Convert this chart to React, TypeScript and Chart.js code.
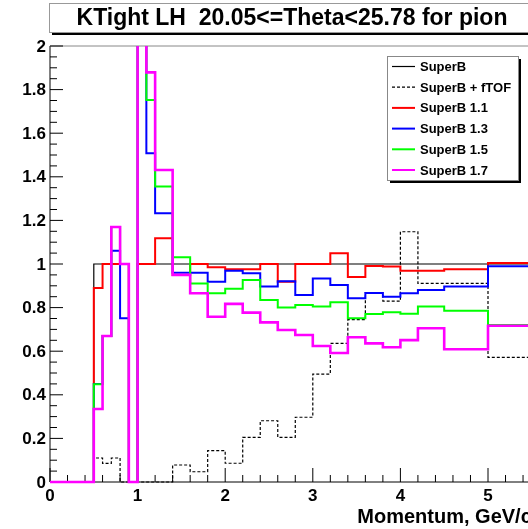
import React, { useEffect, useRef } from "react";
import { Chart, registerables } from "chart.js";

Chart.register(...registerables);

// Histogram bin edges (GeV/c)
const binEdges = [0, 0.5, 0.6, 0.7, 0.8, 0.9, 1.0, 1.1, 1.2, 1.4, 1.6, 1.8, 2.0, 2.2, 2.4, 2.6, 2.8, 3.0, 3.2, 3.4, 3.6, 3.8, 4.0, 4.2, 4.5, 5.0, 5.5];

// One value per bin
const superB = [0, 1, 1, 1, 1, 0, 1, 1, 1, 1, 1, 1, 1, 1, 1, 1, 1, 1, 1, 1, 1, 1, 1, 1, 1, 1];
const superBfTOF = [0, 0.11, 0.085, 0.11, 0, 0, 0, 0, 0, 0.078, 0.047, 0.144, 0.086, 0.205, 0.281, 0.205, 0.297, 0.495, 0.636, 0.745, 0.868, 0.83, 1.148, 0.911, 0.911, 0.572];
const superB11 = [0, 0.89, 1, 1, 1, 0, 1, 1, 1.118, 0.95, 1.0, 0.985, 0.976, 0.976, 1.0, 0.919, 1.0, 1.0, 1.049, 0.94, 0.991, 0.988, 0.969, 0.969, 0.976, 1.005];
const superB13 = [0, 0.45, 0.67, 1.061, 0.751, 0, 2.6, 1.508, 1.233, 0.96, 0.96, 0.919, 0.969, 0.957, 0.897, 0.921, 0.858, 0.934, 0.904, 0.843, 0.867, 0.85, 0.866, 0.881, 0.897, 0.99];
const superB15 = [0, 0.448, 0.67, 1.17, 1.0, 0, 2.8, 1.752, 1.355, 1.031, 0.911, 0.866, 0.886, 0.927, 0.835, 0.8, 0.812, 0.805, 0.825, 0.751, 0.771, 0.779, 0.772, 0.805, 0.785, 0.72];
const superB17 = [0, 0.335, 0.67, 1.17, 1.0, 0, 3.5, 1.879, 1.431, 0.95, 0.866, 0.758, 0.817, 0.777, 0.732, 0.697, 0.674, 0.624, 0.592, 0.664, 0.636, 0.618, 0.651, 0.705, 0.609, 0.717];

const seriesNames = ["SuperB", "SuperB + fTOF", "SuperB 1.1", "SuperB 1.3", "SuperB 1.5", "SuperB 1.7"];
const seriesColors = ["#000000", "#000000", "#ff0000", "#0000ff", "#00ff00", "#ff00ff"];
const seriesWidths = [1.2, 1.2, 2, 2, 2, 2.6];

const xTickLabels = ["0", "1", "2", "3", "4", "5"];
const yTickLabels = ["0", "0.2", "0.4", "0.6", "0.8", "1", "1.2", "1.4", "1.6", "1.8", "2"];

const titleText = "KTight LH  20.05<=Theta<25.78 for pion";
const xAxisTitle = "Momentum, GeV/c";

const FONT = "'Liberation Sans', Arial, Helvetica, sans-serif";
const W = 560;
const H = 529;

function toSteps(values: number[]) {
  const pts = values.map((v, i) => ({ x: binEdges[i], y: v }));
  pts.push({ x: binEdges[binEdges.length - 1], y: values[values.length - 1] });
  return pts;
}

const rootPlugin = {
  id: "rootStyle",
  beforeDatasetsDraw(chart: any) {
    const ctx = chart.ctx as CanvasRenderingContext2D;
    const xs = chart.scales.x;
    const ys = chart.scales.y;
    const a = chart.chartArea;
    ctx.save();
    // frame
    ctx.strokeStyle = "#000";
    ctx.lineWidth = 1;
    ctx.beginPath();
    ctx.moveTo(a.left, a.top);
    ctx.lineTo(a.left, a.bottom);
    ctx.lineTo(a.right, a.bottom);
    ctx.stroke();
    ctx.strokeStyle = "#888";
    ctx.beginPath();
    ctx.moveTo(a.left, a.top);
    ctx.lineTo(a.right, a.top);
    ctx.lineTo(a.right, a.bottom);
    ctx.stroke();

    // y ticks (inward)
    ctx.strokeStyle = "#000";
    ctx.beginPath();
    for (let k = 0; k <= 40; k++) {
      const py = ys.getPixelForValue(k * 0.05);
      const len = k % 4 === 0 ? 13 : 7;
      ctx.moveTo(a.left, py);
      ctx.lineTo(a.left + len, py);
    }
    // x ticks (inward)
    for (let k = 0; k <= 27; k++) {
      const px = xs.getPixelForValue(k * 0.2);
      const len = k % 5 === 0 ? 14 : 7;
      ctx.moveTo(px, a.bottom);
      ctx.lineTo(px, a.bottom - len);
    }
    ctx.stroke();
    ctx.restore();
  },
  afterDraw(chart: any) {
    const ctx = chart.ctx as CanvasRenderingContext2D;
    const xs = chart.scales.x;
    const ys = chart.scales.y;
    const a = chart.chartArea;
    ctx.save();

    // tick labels
    ctx.fillStyle = "#000";
    ctx.font = `bold 17px ${FONT}`;
    ctx.textAlign = "right";
    ctx.textBaseline = "middle";
    yTickLabels.forEach((l) => {
      ctx.fillText(l, a.left - 4, ys.getPixelForValue(parseFloat(l)) + 1);
    });
    ctx.textAlign = "center";
    ctx.textBaseline = "top";
    xTickLabels.forEach((l) => {
      ctx.fillText(l, xs.getPixelForValue(parseFloat(l)), a.bottom + 6);
    });

    // x axis title
    ctx.font = `bold 20px ${FONT}`;
    ctx.textAlign = "right";
    ctx.textBaseline = "alphabetic";
    ctx.fillText(xAxisTitle, a.right, 523);

    // title box
    const tx0 = 49, ty0 = 3, tx1 = 545, ty1 = 32;
    ctx.fillStyle = "#000";
    ctx.fillRect(tx0 + 3, ty0 + 3, tx1 - tx0, ty1 - ty0);
    ctx.fillStyle = "#fff";
    ctx.fillRect(tx0, ty0, tx1 - tx0, ty1 - ty0);
    ctx.strokeStyle = "#999";
    ctx.lineWidth = 1;
    ctx.strokeRect(tx0 + 0.5, ty0 + 0.5, tx1 - tx0, ty1 - ty0);
    ctx.fillStyle = "#000";
    ctx.font = `bold 23px ${FONT}`;
    ctx.textAlign = "center";
    ctx.textBaseline = "middle";
    ctx.fillText(titleText, 292, 19);

    // legend
    const lx0 = 387, ly0 = 56, lx1 = 518, ly1 = 180;
    ctx.fillStyle = "#000";
    ctx.fillRect(lx0 + 3, ly0 + 3, lx1 - lx0, ly1 - ly0);
    ctx.fillStyle = "#fff";
    ctx.fillRect(lx0, ly0, lx1 - lx0, ly1 - ly0);
    ctx.strokeStyle = "#888";
    ctx.lineWidth = 1;
    ctx.strokeRect(lx0 + 0.5, ly0 + 0.5, lx1 - lx0, ly1 - ly0);
    ctx.font = `bold 13px ${FONT}`;
    ctx.textAlign = "left";
    ctx.textBaseline = "middle";
    chart.data.datasets.forEach((ds: any, i: number) => {
      const cy = 66.5 + i * 20.7;
      ctx.strokeStyle = ds.borderColor;
      ctx.lineWidth = i < 2 ? 1.2 : 2;
      ctx.setLineDash(ds.borderDash || []);
      ctx.beginPath();
      ctx.moveTo(392, cy);
      ctx.lineTo(415, cy);
      ctx.stroke();
      ctx.setLineDash([]);
      ctx.fillStyle = "#000";
      ctx.fillText(ds.label, 420, cy + 1);
    });

    ctx.restore();
  },
};

export default function App() {
  const ref = useRef<HTMLCanvasElement | null>(null);

  useEffect(() => {
    if (!ref.current) return;
    const series = [superB, superBfTOF, superB11, superB13, superB15, superB17];
    const datasets = series.map((vals, i) => ({
      label: seriesNames[i],
      data: toSteps(vals),
      borderColor: seriesColors[i],
      backgroundColor: seriesColors[i],
      borderWidth: seriesWidths[i],
      borderDash: i === 1 ? [3, 2] : [],
      stepped: "before" as const,
      pointRadius: 0,
      fill: false,
      order: 6 - i,
      borderJoinStyle: "miter" as const,
      clip: { left: 3, top: 0, right: 0, bottom: 3 },
    }));
    const chart = new Chart(ref.current, {
      type: "line",
      data: { datasets },
      options: {
        responsive: false,
        animation: false,
        devicePixelRatio: 1,
        layout: { padding: { left: 50, top: 46, right: W - 531.8, bottom: H - 482 } },
        plugins: {
          legend: { display: false },
          tooltip: { enabled: false },
          title: { display: false },
        },
        scales: {
          x: { type: "linear", min: 0, max: 5.5, display: false },
          y: { type: "linear", min: 0, max: 2, display: false },
        },
      },
      plugins: [rootPlugin],
    });
    return () => chart.destroy();
  }, []);

  return (
    <div
      style={{
        position: "fixed",
        left: 0,
        top: 0,
        width: 528,
        height: 529,
        overflow: "hidden",
        background: "#fff",
      }}
    >
      <canvas ref={ref} width={W} height={H} style={{ width: W, height: H, display: "block" }} />
    </div>
  );
}
